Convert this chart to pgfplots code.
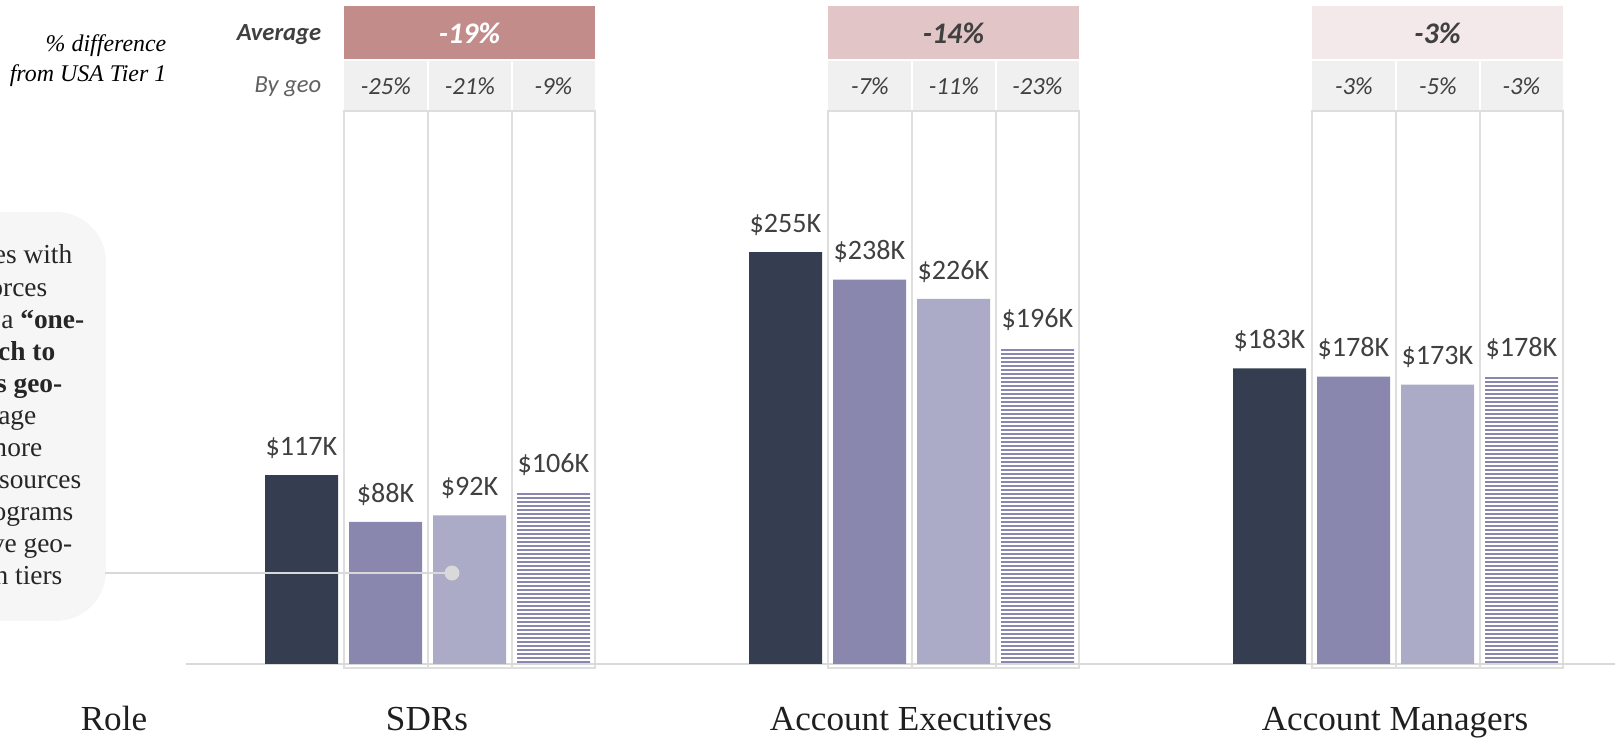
\documentclass[border=0pt]{standalone}
\usepackage{fontspec}
\setmainfont{Liberation Serif}
\newfontfamily\carlito{Carlito}
\usepackage{pgfplots}
\pgfplotsset{compat=1.18}
\usetikzlibrary{patterns.meta}

\definecolor{tierdark}{HTML}{343E50}
\definecolor{tiermid}{HTML}{8987AE}
\definecolor{tierlight}{HTML}{ABAAC7}
\definecolor{roseA}{HTML}{C28C8B}
\definecolor{roseB}{HTML}{E2C6C7}
\definecolor{roseC}{HTML}{F3E9EA}
\definecolor{cellgray}{HTML}{F0F0F0}
\definecolor{boxgray}{HTML}{DEDEDE}
\definecolor{linegray}{HTML}{D9D9D9}
\definecolor{callout}{HTML}{F6F6F6}
\definecolor{txt}{HTML}{404040}

% one header block + column frames; #1 x offset, #2 fill, #3 text colour, #4 avg, #5-#7 by geo
\newcommand\grouphead[7]{%
  \fill[#2] (344+#1,6) rectangle (595+#1,59);
  \node[text=#3, font=\carlito\bfseries\itshape\fontsize{8.5}{10}\selectfont] at (469.5+#1,33.5) {#4\%};
  \fill[cellgray] (344+#1,61) rectangle (427+#1,110);
  \fill[cellgray] (429+#1,61) rectangle (511+#1,110);
  \fill[cellgray] (513+#1,61) rectangle (595+#1,110);
  \node[text=txt, font=\carlito\itshape\fontsize{7}{8}\selectfont] at (386+#1,86) {#5\%};
  \node[text=txt, font=\carlito\itshape\fontsize{7}{8}\selectfont] at (470+#1,86) {#6\%};
  \node[text=txt, font=\carlito\itshape\fontsize{7}{8}\selectfont] at (553.5+#1,86) {#7\%};
  \draw[boxgray, line width=0.15mm] (344+#1,111) rectangle (428+#1,668);
  \draw[boxgray, line width=0.15mm] (428+#1,111) rectangle (512+#1,668);
  \draw[boxgray, line width=0.15mm] (512+#1,111) rectangle (595+#1,668);
}

\begin{document}
\begin{tikzpicture}
% decoration layer, pixel coordinates (y down)
\begin{axis}[name=A, at={(0,0)}, anchor=south west, scale only axis,
  width=161.5mm, height=73.8mm, xmin=0, xmax=1615, ymin=0, ymax=738,
  y dir=reverse, hide axis, clip=false]
  % callout
  \fill[callout, rounded corners=5mm] (-80,212) rectangle (106,621);
  \begin{scope}[every node/.style={anchor=base east, inner sep=0pt, font=\fontsize{7.8}{9.4}\selectfont, text=black!85}]
    \node at (73,264) {Companies with};
    \node at (48,296.1) {distributed workforces};
    \node at (85,328.2) {often opt instead of a \textbf{“one-}};
    \node at (56,360.3) {\textbf{size-fits-all approach to}};
    \node at (63,392.4) {\textbf{pay across geo-}};
    \node at (37,424.5) {graphies; on average};
    \node at (43,456.6) {companies with more};
    \node at (82,488.7) {budget and resources};
    \node at (74,520.8) {have pay programs};
    \node at (73,552.9) {with extensive geo-};
    \node at (63,585) {graphic compensation tiers};
  \end{scope}
  % left header labels
  \node[anchor=east, align=right, inner sep=0pt, font=\itshape\fontsize{6.8}{8.6}\selectfont] at (167,60.5) {\% difference\\from USA Tier 1};
  \node[anchor=east, inner sep=0pt, text=txt, font=\carlito\bfseries\itshape\fontsize{7}{8}\selectfont] at (322,35) {Average};
  \node[anchor=east, inner sep=0pt, text=black!62, font=\carlito\itshape\fontsize{7}{8}\selectfont] at (322,87) {By geo};
  % group headers and column frames
  \grouphead{0}{roseA}{white}{-19}{-25}{-21}{-9}
  \grouphead{484}{roseB}{txt}{-14}{-7}{-11}{-23}
  \grouphead{968}{roseC}{txt}{-3}{-3}{-5}{-3}
  % baseline
  \draw[linegray, line width=0.25mm] (186,664) -- (1615,664);
  % category labels
  \begin{scope}[every node/.style={anchor=base, inner sep=0pt, font=\fontsize{10}{12}\selectfont, text=black!88}]
    \node at (114,731) {Role};
    \node at (427,731) {SDRs};
    \node at (911,731) {Account Executives};
    \node at (1395,731) {Account Managers};
  \end{scope}
\end{axis}

% bars, values in $K
\begin{axis}[name=B, at={(0,0)}, anchor=south west, scale only axis,
  width=161.5mm, height=73.8mm, xmin=0, xmax=1615, ymin=-45.82, ymax=411.15,
  hide axis, clip=false, ybar, bar width=73,
  /pgf/number format/assume math mode=true,
  nodes near coords={\$\pgfmathprintnumber[fixed,precision=0]{\pgfplotspointmeta}K},
  every node near coord/.append style={anchor=south, inner sep=0pt, yshift=1.6mm, text=txt, font=\carlito\fontsize{8}{9}\selectfont}]
  % USA Tier 1
  \addplot[fill=tierdark, draw=none, bar shift=0pt] coordinates {(301.5,117) (785.5,255) (1269.5,183)};
  % geo 2
  \addplot[fill=tiermid, draw=none, bar shift=0pt] coordinates {(385.5,88) (869.5,238) (1353.5,178)};
  % geo 3
  \addplot[fill=tierlight, draw=none, bar shift=0pt] coordinates {(469.5,92) (953.5,226) (1437.5,173)};
  % geo 4 (hatched)
  \addplot[draw=none, pattern={Lines[angle=0, distance=0.4mm, line width=0.18mm]}, pattern color=tiermid, bar shift=0pt] coordinates {(553.5,106) (1037.5,196) (1521.5,178)};
  % callout connector
  \draw[linegray, line width=0.2mm] (105,56.3) -- (452,56.3);
  \fill[linegray] (452,56.3) circle[radius=0.75mm];
\end{axis}
\pgfresetboundingbox
\path[use as bounding box] (B.south west) rectangle (B.north east);
\end{tikzpicture}
\end{document}
